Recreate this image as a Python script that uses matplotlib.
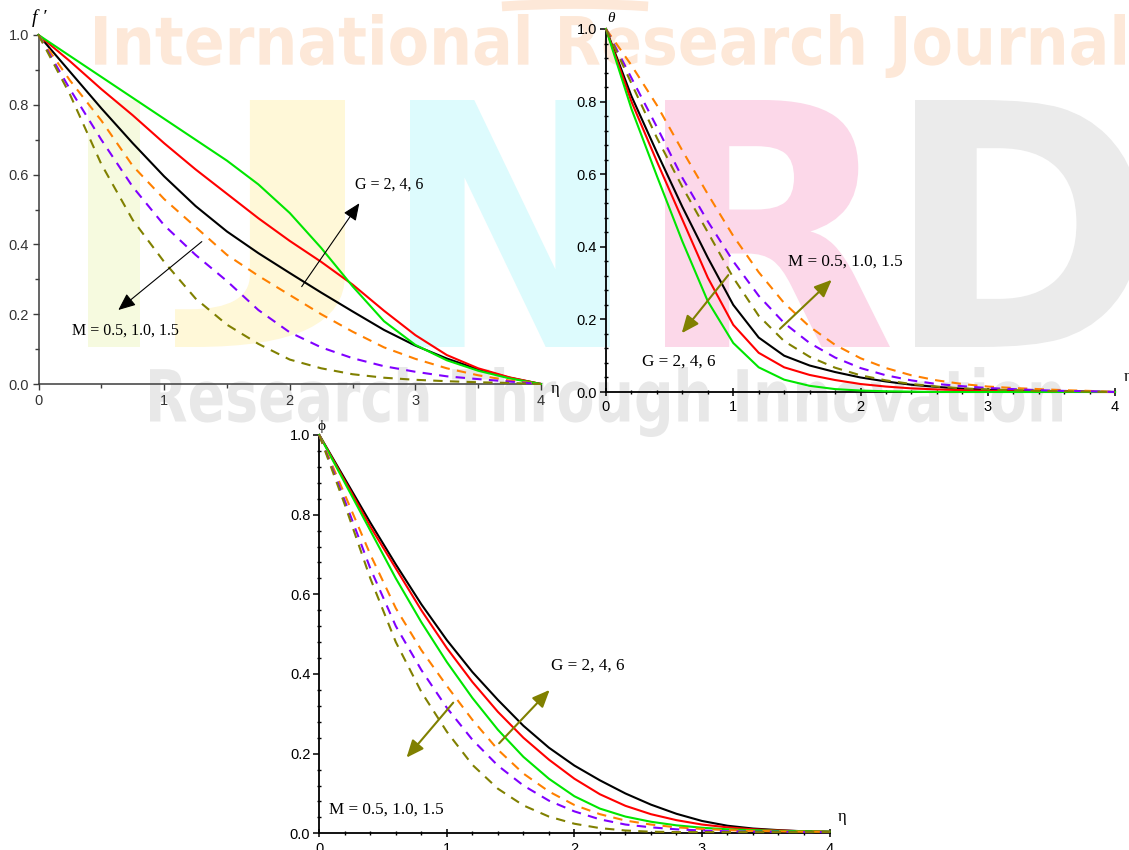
import matplotlib
matplotlib.use("Agg")
import matplotlib.pyplot as plt
from matplotlib.font_manager import FontProperties
from matplotlib.patches import PathPatch, Arc
from matplotlib.textpath import TextPath
from matplotlib.ticker import MultipleLocator
from matplotlib.transforms import Affine2D

W, H = 1129, 850

# velocity profile f'(eta): G = 2, 4, 6 (solid) and M = 0.5, 1.0, 1.5 (dashed)
eta_f = [0.0, 0.25, 0.5, 0.75, 1.0, 1.25, 1.5, 1.75, 2.0, 2.25, 2.5, 2.75, 3.0, 3.25, 3.5, 3.75, 4.0]
fp_g2 = [1.0, 0.895, 0.79, 0.69, 0.595, 0.51, 0.437, 0.375, 0.318, 0.262, 0.208, 0.155, 0.11, 0.073, 0.042, 0.018, 0.0]
fp_g4 = [1.0, 0.925, 0.845, 0.77, 0.69, 0.615, 0.545, 0.475, 0.41, 0.35, 0.285, 0.21, 0.14, 0.083, 0.045, 0.019, 0.0]
fp_g6 = [1.0, 0.94, 0.88, 0.82, 0.76, 0.70, 0.64, 0.572, 0.49, 0.39, 0.28, 0.18, 0.112, 0.068, 0.038, 0.016, 0.0]
fp_m05 = [1.0, 0.87, 0.755, 0.625, 0.53, 0.45, 0.37, 0.31, 0.255, 0.20, 0.15, 0.105, 0.072, 0.045, 0.025, 0.01, 0.0]
fp_m10 = [1.0, 0.845, 0.70, 0.565, 0.455, 0.37, 0.295, 0.212, 0.148, 0.105, 0.074, 0.051, 0.035, 0.022, 0.014, 0.007, 0.0]
fp_m15 = [1.0, 0.83, 0.63, 0.47, 0.35, 0.245, 0.17, 0.115, 0.07, 0.045, 0.028, 0.018, 0.012, 0.008, 0.005, 0.003, 0.0]

# temperature profile theta(eta)
eta_t = [0.0, 0.2, 0.4, 0.6, 0.8, 1.0, 1.2, 1.4, 1.6, 1.8, 2.0, 2.2, 2.4, 2.6, 2.8, 3.0, 3.2, 3.4, 3.6, 3.8, 4.0]
th_g2 = [1.0, 0.815, 0.66, 0.51, 0.37, 0.24, 0.15, 0.10, 0.073, 0.055, 0.04, 0.029, 0.02, 0.014, 0.009, 0.006, 0.004, 0.003, 0.002, 0.001, 0.0]
th_g4 = [1.0, 0.80, 0.635, 0.475, 0.315, 0.185, 0.108, 0.068, 0.047, 0.033, 0.022, 0.015, 0.01, 0.007, 0.005, 0.003, 0.002, 0.001, 0.001, 0.0, 0.0]
th_g6 = [1.0, 0.78, 0.595, 0.415, 0.25, 0.135, 0.068, 0.034, 0.017, 0.008, 0.004, 0.002, 0.001, 0.0, 0.0, 0.0, 0.0, 0.0, 0.0, 0.0, 0.0]
th_m05 = [1.0, 0.90, 0.79, 0.665, 0.545, 0.43, 0.33, 0.245, 0.18, 0.13, 0.093, 0.066, 0.046, 0.032, 0.022, 0.015, 0.011, 0.008, 0.005, 0.003, 0.0]
th_m10 = [1.0, 0.865, 0.73, 0.59, 0.47, 0.36, 0.265, 0.19, 0.135, 0.095, 0.066, 0.046, 0.032, 0.022, 0.016, 0.011, 0.008, 0.005, 0.003, 0.002, 0.0]
th_m15 = [1.0, 0.85, 0.70, 0.565, 0.44, 0.315, 0.21, 0.14, 0.097, 0.067, 0.046, 0.032, 0.022, 0.015, 0.01, 0.007, 0.005, 0.003, 0.002, 0.001, 0.0]

# concentration profile phi(eta)
eta_p = [0.0, 0.2, 0.4, 0.6, 0.8, 1.0, 1.2, 1.4, 1.6, 1.8, 2.0, 2.2, 2.4, 2.6, 2.8, 3.0, 3.2, 3.4, 3.6, 3.8, 4.0]
ph_g2 = [1.0, 0.89, 0.78, 0.675, 0.575, 0.485, 0.405, 0.335, 0.27, 0.215, 0.17, 0.133, 0.10, 0.072, 0.049, 0.031, 0.019, 0.012, 0.008, 0.005, 0.004]
ph_g4 = [1.0, 0.885, 0.77, 0.665, 0.56, 0.465, 0.38, 0.305, 0.24, 0.185, 0.137, 0.098, 0.069, 0.048, 0.033, 0.022, 0.015, 0.01, 0.007, 0.005, 0.004]
ph_g6 = [1.0, 0.88, 0.76, 0.64, 0.53, 0.43, 0.34, 0.26, 0.192, 0.137, 0.093, 0.062, 0.042, 0.029, 0.02, 0.014, 0.01, 0.008, 0.006, 0.005, 0.004]
ph_m05 = [1.0, 0.85, 0.70, 0.565, 0.46, 0.37, 0.285, 0.21, 0.15, 0.105, 0.071, 0.048, 0.032, 0.022, 0.015, 0.011, 0.008, 0.006, 0.005, 0.004, 0.004]
ph_m10 = [1.0, 0.835, 0.665, 0.52, 0.41, 0.315, 0.235, 0.17, 0.12, 0.082, 0.055, 0.035, 0.022, 0.015, 0.01, 0.007, 0.005, 0.004, 0.004, 0.003, 0.003]
ph_m15 = [1.0, 0.825, 0.64, 0.48, 0.355, 0.255, 0.172, 0.112, 0.07, 0.042, 0.024, 0.013, 0.007, 0.004, 0.003, 0.003, 0.003, 0.003, 0.003, 0.003, 0.003]

RED, GREEN = "#FF0000", "#00E600"
ORANGE, PURPLE, OLIVE = "#FF8000", "#8000FF", "#808000"
SANS = "Liberation Sans"
SERIF = ["Liberation Serif", "DejaVu Serif"]
DASH = (4.5, 3.5)

fig = plt.figure(figsize=(W / 100, H / 100), dpi=100)
fig.patch.set_facecolor("white")


def watermark(text, box, color):
    """Stretch bold text to fill a pixel box (left, top, right, bottom)."""
    path = TextPath((0, 0), text, size=100,
                    prop=FontProperties(family="DejaVu Sans", weight="bold"))
    ext = path.get_extents()
    x0, y0, x1, y1 = box
    tr = (Affine2D().translate(-ext.x0, -ext.y0)
          .scale((x1 - x0) / ext.width, (y1 - y0) / ext.height)
          .translate(x0, H - y1))
    fig.add_artist(PathPatch(path, transform=tr, facecolor=color,
                             edgecolor="none", zorder=-5))


watermark("International Research Journal", (95, 14, 1125, 78), "#FDE8D8")
watermark("I", (88, 100, 140, 347), "#F6FADF")
watermark("J", (175, 100, 345, 347), "#FFF8D8")
watermark("N", (410, 100, 610, 347), "#DDFBFD")
watermark("R", (665, 100, 890, 347), "#FCD8E9")
watermark("D", (915, 100, 1140, 347), "#EBEBEB")
watermark("Research Through Innovation", (150, 367, 1062, 437), "#E8E8E8")
fig.add_artist(Arc((575, H - 26), 320, 44, theta1=15, theta2=165,
                   transform=Affine2D(), color="#FDE8D8", lw=7, zorder=-5))


def panel(left, top, right, bottom):
    ax = fig.add_axes([left / W, 1 - bottom / H, (right - left) / W, (bottom - top) / H])
    ax.set_xlim(0, 4)
    ax.set_ylim(0, 1)
    ax.set_facecolor("none")
    ax.spines["top"].set_visible(False)
    ax.spines["right"].set_visible(False)
    ax.xaxis.set_major_locator(MultipleLocator(1))
    ax.yaxis.set_major_locator(MultipleLocator(0.2))
    return ax


def curves(ax, eta, solids, dashed):
    for vals, col in zip(solids, ("black", RED, GREEN)):
        ax.plot(eta, vals, color=col, lw=1.5, clip_on=False, zorder=3)
    for vals, col in zip(dashed, (ORANGE, PURPLE, OLIVE)):
        ax.plot(eta, vals, color=col, lw=1.5, dashes=DASH, clip_on=False, zorder=3)


def arrow(ax, tail, head, color, lw):
    ax.annotate("", xy=head, xytext=tail,
                arrowprops=dict(arrowstyle="-|>,head_length=0.75,head_width=0.32",
                                color=color, lw=lw, shrinkA=0, shrinkB=0,
                                mutation_scale=14))


def tick_fonts(ax, color):
    for lab in ax.get_xticklabels() + ax.get_yticklabels():
        lab.set_fontfamily(SANS)
        lab.set_fontsize(10.5)
        lab.set_color(color)


# f' panel
ax1 = panel(38.5, 35, 541, 384)
for s in ("left", "bottom"):
    ax1.spines[s].set_color("#3c3c3c")
    ax1.spines[s].set_linewidth(1.1)
ax1.xaxis.set_minor_locator(MultipleLocator(0.5))
ax1.yaxis.set_minor_locator(MultipleLocator(0.1))
ax1.tick_params(which="both", direction="out", color="#3c3c3c", width=1)
ax1.tick_params(which="major", length=4.5, pad=2.5)
ax1.tick_params(which="minor", length=3)
curves(ax1, eta_f, (fp_g2, fp_g4, fp_g6), (fp_m05, fp_m10, fp_m15))
arrow(ax1, (2.095, 0.279), (2.554, 0.518), "black", 0.8)
arrow(ax1, (1.30, 0.408), (0.635, 0.212), "black", 0.8)
ax1.text(2.52, 0.57, "G = 2, 4, 6", family=SERIF, fontsize=11.5, va="center")
ax1.text(0.267, 0.153, "M = 0.5, 1.0, 1.5", family=SERIF, fontsize=11.5, va="center")
tick_fonts(ax1, "#333333")
fig.text(39 / W, 1 - 18 / H, "f \u2032", family=SERIF, style="italic", fontsize=14,
         ha="center", va="center")
fig.text(555 / W, 1 - 389 / H, "\u03b7", family=SERIF, fontsize=12, ha="center", va="center")


def framed(ax):
    for s in ("left", "bottom"):
        ax.spines[s].set_color("black")
        ax.spines[s].set_linewidth(1.3)
    ax.xaxis.set_minor_locator(MultipleLocator(0.2))
    ax.yaxis.set_minor_locator(MultipleLocator(0.04))
    ax.tick_params(axis="y", which="major", direction="out", length=4.5, width=1.1, pad=2)
    ax.tick_params(axis="y", which="minor", direction="inout", length=3.5, width=1)
    ax.tick_params(axis="x", which="major", direction="inout", length=6, width=1.1, pad=3)
    ax.tick_params(axis="x", which="minor", direction="inout", length=3.5, width=1)


# theta panel
ax2 = panel(606, 29, 1115, 392)
framed(ax2)
curves(ax2, eta_t, (th_g2, th_g4, th_g6), (th_m05, th_m10, th_m15))
arrow(ax2, (0.961, 0.322), (0.595, 0.162), OLIVE, 1.5)
arrow(ax2, (1.367, 0.174), (1.774, 0.309), OLIVE, 1.5)
ax2.text(1.43, 0.36, "M = 0.5, 1.0, 1.5", family=SERIF, fontsize=12.3, va="center")
ax2.text(0.28, 0.085, "G = 2, 4, 6", family=SERIF, fontsize=12.3, va="center")
tick_fonts(ax2, "black")
fig.text(611 / W, 1 - 19 / H, "\u03b8", family=SERIF, style="italic", fontsize=11,
         ha="center", va="center")
fig.text(1128 / W, 1 - 377 / H, "\u03b7", family=SERIF, fontsize=12, ha="center", va="center")

# phi panel
ax3 = panel(319.3, 435, 829.5, 833.3)
framed(ax3)
curves(ax3, eta_p, (ph_g2, ph_g4, ph_g6), (ph_m05, ph_m10, ph_m15))
arrow(ax3, (1.41, 0.226), (1.806, 0.36), OLIVE, 1.5)
arrow(ax3, (1.05, 0.328), (0.684, 0.19), OLIVE, 1.5)
ax3.text(1.816, 0.42, "G = 2, 4, 6", family=SERIF, fontsize=12.3, va="center")
ax3.text(0.075, 0.0585, "M = 0.5, 1.0, 1.5", family=SERIF, fontsize=12.3, va="center")
tick_fonts(ax3, "black")
fig.text(321 / W, 1 - 426 / H, "\u03d5", family=SERIF, fontsize=11, ha="center", va="center")
fig.text(842 / W, 1 - 817 / H, "\u03b7", family=SERIF, fontsize=12, ha="center", va="center")

fig.savefig("out.png", dpi=100, facecolor="white")
